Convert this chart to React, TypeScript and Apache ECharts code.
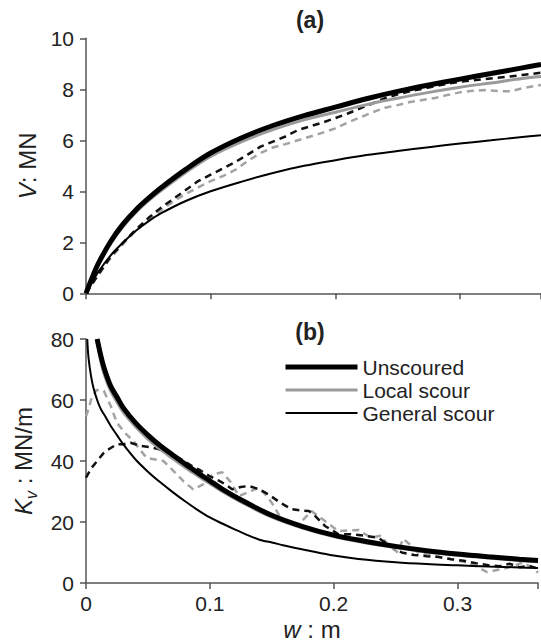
import React, { useEffect, useRef } from "react";
import * as echarts from "echarts";

// ---------- Panel (a): V (MN) versus w (m) ----------
const W_A = [0, 0.005, 0.01, 0.02, 0.03, 0.04, 0.05, 0.06, 0.08, 0.1, 0.125, 0.15, 0.175, 0.2, 0.225, 0.25, 0.275, 0.3, 0.325, 0.35, 0.365];
const UNSCOURED_V = [0, 0.62, 1.18, 2.05, 2.73, 3.27, 3.72, 4.13, 4.86, 5.5, 6.1, 6.58, 6.97, 7.3, 7.63, 7.92, 8.17, 8.4, 8.62, 8.84, 8.97];
const LOCAL_V = [0, 0.57, 1.12, 1.96, 2.63, 3.17, 3.62, 4.02, 4.74, 5.37, 5.95, 6.42, 6.8, 7.1, 7.4, 7.65, 7.88, 8.08, 8.25, 8.42, 8.5];
const GENERAL_V = [0, 0.45, 0.85, 1.5, 2.0, 2.45, 2.82, 3.13, 3.62, 4.0, 4.38, 4.72, 5.0, 5.22, 5.42, 5.58, 5.73, 5.87, 6.0, 6.13, 6.2];

const W_DASH_A = [0, 0.01, 0.02, 0.03, 0.04, 0.05, 0.06, 0.07, 0.08, 0.09, 0.1, 0.11, 0.12, 0.13, 0.14, 0.15, 0.16, 0.17, 0.18, 0.19, 0.2, 0.21, 0.22, 0.23, 0.24, 0.25, 0.26, 0.27, 0.28, 0.29, 0.3, 0.31, 0.32, 0.33, 0.34, 0.35, 0.365];
const MEAS_UNSCOURED_V = [0, 0.75, 1.45, 2.0, 2.5, 2.95, 3.35, 3.7, 4.05, 4.4, 4.65, 4.9, 5.15, 5.45, 5.75, 5.95, 6.15, 6.4, 6.55, 6.7, 6.87, 7.05, 7.25, 7.45, 7.65, 7.8, 7.92, 8.02, 8.12, 8.22, 8.3, 8.35, 8.4, 8.45, 8.5, 8.56, 8.65];
const MEAS_LOCAL_V = [0, 0.72, 1.4, 1.95, 2.45, 2.88, 3.25, 3.6, 3.9, 4.15, 4.4, 4.6, 4.85, 5.2, 5.5, 5.72, 5.85, 6.0, 6.15, 6.3, 6.47, 6.7, 6.9, 7.1, 7.28, 7.38, 7.5, 7.58, 7.66, 7.78, 7.88, 7.94, 7.97, 7.93, 7.92, 8.04, 8.17];

// ---------- Panel (b): Kv (MN/m) versus w (m) ----------
const W_B = [0.009, 0.012, 0.015, 0.02, 0.025, 0.03, 0.04, 0.05, 0.06, 0.07, 0.08, 0.09, 0.1, 0.11, 0.125, 0.15, 0.175, 0.2, 0.225, 0.25, 0.275, 0.3, 0.325, 0.35, 0.365];
const UNSCOURED_K = [80, 74.5, 70, 64.5, 61, 57.5, 52.5, 48.5, 45, 42, 39, 36.2, 33.5, 30.8, 27.3, 22.2, 18.5, 15.7, 13.7, 12.0, 10.6, 9.5, 8.6, 7.8, 7.4];
const W_B_LOCAL = [0.0085, 0.012, 0.015, 0.02, 0.025, 0.03, 0.04, 0.05, 0.06, 0.07, 0.08, 0.09, 0.1, 0.11, 0.125, 0.15, 0.175, 0.2, 0.225, 0.25, 0.275, 0.3, 0.325, 0.35, 0.365];
const LOCAL_K = [80, 72.5, 68, 62.8, 59.3, 56, 51.2, 47.2, 43.8, 40.8, 37.9, 35.2, 32.6, 30, 26.6, 21.6, 18, 15.2, 13.2, 11.6, 10.2, 9.1, 8.2, 7.4, 7.0];
const W_C = [0.001, 0.002, 0.004, 0.006, 0.009, 0.012, 0.015, 0.02, 0.025, 0.03, 0.04, 0.05, 0.06, 0.07, 0.08, 0.09, 0.1, 0.11, 0.12, 0.13, 0.14, 0.145, 0.15, 0.16, 0.18, 0.2, 0.22, 0.25, 0.275, 0.3, 0.325, 0.35, 0.365];
const GENERAL_K = [80, 74, 68, 64, 60, 57, 55, 51.5, 48.5, 45.5, 40.5, 36.5, 33, 29.8, 26.8, 24, 21.5, 19.5, 17.6, 15.8, 14.2, 13.7, 13.3, 12.3, 10.6, 9.0, 7.9, 6.8, 6.2, 5.8, 5.4, 5.1, 4.9];

const W_DASH_B = [0, 0.004, 0.009, 0.014, 0.019, 0.025, 0.03, 0.036, 0.043, 0.052, 0.058, 0.065, 0.075, 0.085, 0.092, 0.1, 0.108, 0.113, 0.118, 0.125, 0.1315, 0.14, 0.1475, 0.157, 0.166, 0.173, 0.18, 0.185, 0.193, 0.204, 0.214, 0.225, 0.236, 0.245, 0.255, 0.265, 0.275, 0.285, 0.295, 0.305, 0.315, 0.325, 0.334, 0.342, 0.35, 0.358, 0.365];
const MEAS_UNSCOURED_K = [34.5, 37.5, 40, 42.5, 44, 45.5, 45.5, 46, 45, 44.5, 44, 42.7, 41, 38.5, 37, 35, 33.4, 32.2, 30.7, 31.5, 31.8, 30.7, 29, 26.3, 24.2, 23.8, 23.6, 22, 18.7, 16, 16, 15.5, 14.8, 12.5, 10, 9.2, 8.8, 8.5, 7.8, 7.3, 6.5, 5.8, 5.5, 6.3, 5.2, 5.6, 4.7];
const W_GRAY_B = [0, 0.002, 0.0045, 0.0086, 0.0144, 0.02, 0.025, 0.032, 0.0385, 0.044, 0.049, 0.056, 0.0625, 0.07, 0.0786, 0.0866, 0.0946, 0.1026, 0.11, 0.117, 0.1235, 0.132, 0.1395, 0.145, 0.15, 0.158, 0.169, 0.176, 0.182, 0.193, 0.204, 0.212, 0.22, 0.23, 0.238, 0.245, 0.252, 0.256, 0.262, 0.268, 0.28, 0.297, 0.31, 0.324, 0.335, 0.345, 0.353, 0.36, 0.365];
const MEAS_LOCAL_K = [54.6, 57, 60.7, 63.3, 63, 58, 52.5, 49, 46.5, 43.5, 41, 40.5, 40, 37, 33.4, 30.7, 32.3, 35.6, 36.3, 33, 28.5, 30, 31.2, 29, 26.3, 20.9, 18.7, 21, 23.6, 20.3, 17, 17.2, 17.4, 14.9, 15.5, 12, 10, 14.5, 12.5, 10, 9, 7.6, 6.5, 3.6, 4.5, 5.5, 6.8, 5.0, 3.4];

const X_TICK_LABELS = ["0", "0.1", "0.2", "0.3"];
const LEGEND_NAMES = ["Unscoured", "Local scour", "General scour"];

const FONT = "Liberation Sans";
const TEXT = "#222";
const AXIS = "#555";

const pairs = (xs: number[], ys: number[]) => xs.map((x, i) => [x, ys[i]]);

export default function App() {
  const ref = useRef<HTMLDivElement>(null);

  useEffect(() => {
    if (!ref.current) return;
    const chart = echarts.init(ref.current, undefined, { renderer: "svg" });

    const xFormatter = (v: number) => {
      const i = Math.round(v * 10);
      return Math.abs(v - i / 10) < 1e-6 && i < X_TICK_LABELS.length ? X_TICK_LABELS[i] : "";
    };

    const xAxisBase = {
      type: "value",
      min: 0,
      max: 0.365,
      interval: 0.1,
      splitLine: { show: false },
      axisLine: { lineStyle: { color: AXIS, width: 1.5 } },
      axisTick: { length: 6, lineStyle: { color: AXIS, width: 1.5 } },
    };
    const yAxisBase = {
      type: "value",
      min: 0,
      splitLine: { show: false },
      axisLine: { show: true, lineStyle: { color: AXIS, width: 1.5 } },
      axisTick: { show: true, length: 6, lineStyle: { color: AXIS, width: 1.5 } },
      axisLabel: { color: TEXT, fontSize: 21, fontFamily: FONT, margin: 12 },
      nameLocation: "middle",
      nameRotate: 90,
      nameTextStyle: {
        color: TEXT,
        fontSize: 24,
        fontFamily: FONT,
        rich: {
          i: { fontSize: 24, fontStyle: "italic", fontFamily: FONT, color: TEXT, lineHeight: 32 },
          s: { fontSize: 16, fontStyle: "italic", fontFamily: FONT, color: TEXT, lineHeight: 16, verticalAlign: "bottom" },
        },
      },
    };

    const line = (
      name: string,
      data: number[][],
      color: string,
      width: number,
      idx: number,
      dashed: boolean,
      z: number
    ) => ({
      type: "line",
      name,
      data,
      xAxisIndex: idx,
      yAxisIndex: idx,
      symbol: "none",
      smooth: dashed ? false : 0.35,
      lineStyle: { color, width, type: dashed ? [7, 5] : "solid" },
      itemStyle: { color },
      z,
      silent: true,
    });

    chart.setOption({
      animation: false,
      backgroundColor: "#fff",
      grid: [
        { left: 86, right: 0, top: 38.3, height: 255 },
        { left: 86, right: 0, top: 339, height: 245 },
      ],
      xAxis: [
        { ...xAxisBase, gridIndex: 0, axisLabel: { show: false } },
        {
          ...xAxisBase,
          gridIndex: 1,
          axisLabel: { color: TEXT, fontSize: 21, fontFamily: FONT, margin: 10, formatter: xFormatter },
          name: "{i|w} : m",
          nameLocation: "middle",
          nameGap: 34,
          nameTextStyle: {
            color: TEXT,
            fontSize: 24,
            fontFamily: FONT,
            rich: { i: { fontSize: 24, fontStyle: "italic", fontFamily: FONT, color: TEXT } },
          },
        },
      ],
      yAxis: [
        { ...yAxisBase, gridIndex: 0, max: 10, interval: 2, name: "{i|V}: MN", nameGap: 42 },
        { ...yAxisBase, gridIndex: 1, max: 80, interval: 20, name: "{i|K}{s|v} : MN/m", nameGap: 40 },
      ],
      legend: {
        data: LEGEND_NAMES,
        orient: "vertical",
        left: 283,
        top: 355.5,
        padding: 0,
        itemWidth: 72,
        itemHeight: 14,
        itemGap: 0,
        selectedMode: false,
        itemStyle: { opacity: 0 },
        lineStyle: { width: "inherit" },
        textStyle: { color: TEXT, fontSize: 21, fontFamily: FONT, lineHeight: 23 },
      },
      graphic: [
        { type: "text", x: 310, y: 20, style: { text: "(a)", font: `bold 23px "${FONT}"`, fill: TEXT, textAlign: "center", textVerticalAlign: "middle" } },
        { type: "text", x: 310, y: 332, style: { text: "(b)", font: `bold 23px "${FONT}"`, fill: TEXT, textAlign: "center", textVerticalAlign: "middle" } },
      ],
      series: [
        line("Measured, local scour", pairs(W_DASH_A, MEAS_LOCAL_V), "#a3a3a3", 2.5, 0, true, 2),
        line("Measured, unscoured", pairs(W_DASH_A, MEAS_UNSCOURED_V), "#111", 2.5, 0, true, 3),
        line("General scour", pairs(W_A, GENERAL_V), "#000", 2, 0, false, 4),
        line("Local scour", pairs(W_A, LOCAL_V), "#9a9a9a", 3, 0, false, 5),
        line("Unscoured", pairs(W_A, UNSCOURED_V), "#000", 5, 0, false, 6),

        line("Measured, local scour", pairs(W_GRAY_B, MEAS_LOCAL_K), "#a3a3a3", 2.5, 1, true, 2),
        line("Measured, unscoured", pairs(W_DASH_B, MEAS_UNSCOURED_K), "#111", 2.5, 1, true, 3),
        line("General scour", pairs(W_C, GENERAL_K), "#000", 2, 1, false, 4),
        line("Local scour", pairs(W_B_LOCAL, LOCAL_K), "#9a9a9a", 3, 1, false, 5),
        line("Unscoured", pairs(W_B, UNSCOURED_K), "#000", 5, 1, false, 6),
      ],
    });

    return () => chart.dispose();
  }, []);

  return (
    <div
      ref={ref}
      style={{ position: "fixed", left: 0, top: 0, width: 541, height: 642, background: "#fff" }}
    />
  );
}
